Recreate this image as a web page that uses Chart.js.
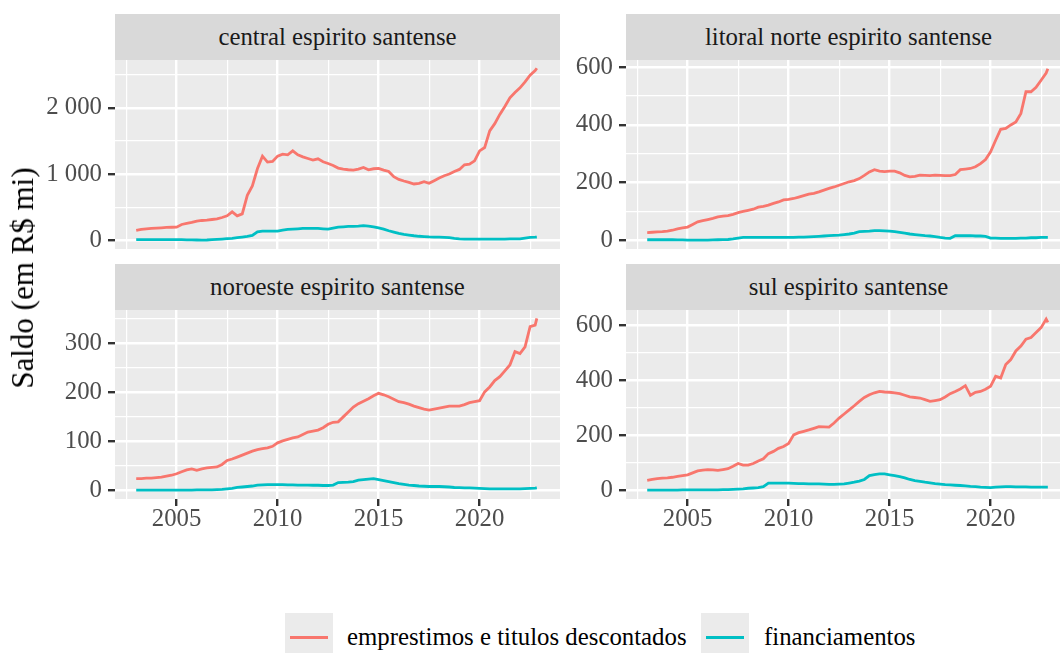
<!DOCTYPE html>
<html>
<head>
<meta charset="utf-8">
<script src="https://cdn.jsdelivr.net/npm/chart.js@4.4.0/dist/chart.umd.min.js"></script>
<style>
html,body{margin:0;padding:0;background:#ffffff;}
#wrap{position:relative;width:1060px;height:653px;overflow:hidden;background:#ffffff;font-family:"Liberation Serif","Times New Roman",serif;}
canvas{position:absolute;}
.strip{position:absolute;height:46px;background:#D9D9D9;color:#1A1A1A;font-size:24.8px;line-height:46px;text-align:center;white-space:nowrap;}
.ytitle{position:absolute;left:23px;top:278px;transform:translate(-50%,-50%) rotate(-90deg);font-size:31px;color:#000;white-space:nowrap;}
.key{position:absolute;top:613px;width:48px;height:48px;background:#EBEBEB;}
.key i{position:absolute;left:5px;right:5px;top:22.5px;height:3px;}
.ltext{position:absolute;top:637px;transform:translateY(-50%);font-size:24.8px;color:#000;white-space:nowrap;line-height:1.2;}
</style>
</head>
<body>
<div id="wrap">
  <div class="strip" id="s1" style="left:115px;top:14px;width:445px;"></div>
  <div class="strip" id="s2" style="left:626px;top:14px;width:445px;"></div>
  <div class="strip" id="s3" style="left:115px;top:264px;width:445px;"></div>
  <div class="strip" id="s4" style="left:626px;top:264px;width:445px;"></div>
  <canvas id="c1" width="560" height="204" style="left:0px;top:45px;"></canvas>
  <canvas id="c2" width="511" height="204" style="left:560px;top:45px;"></canvas>
  <canvas id="c3" width="560" height="244" style="left:0px;top:295px;"></canvas>
  <canvas id="c4" width="511" height="244" style="left:560px;top:295px;"></canvas>
  <div class="ytitle" id="ytitle"></div>
  <div class="key" style="left:285px;"><i style="background:#F8766D"></i></div>
  <div class="ltext" id="l1" style="left:347px;"></div>
  <div class="key" style="left:701px;"><i style="background:#00BFC4"></i></div>
  <div class="ltext" id="l2" style="left:764px;"></div>
</div>
<script>
// ---------- DATA ----------
const panelTitles = ["central espirito santense", "litoral norte espirito santense", "noroeste espirito santense", "sul espirito santense"];
const seriesNames = ["emprestimos e titulos descontados", "financiamentos"];
const yAxisTitle = "Saldo (em R$ mi)";

const months = [
 "2003-01","2003-04","2003-07","2003-10","2004-01","2004-04","2004-07","2004-10",
 "2005-01","2005-04","2005-07","2005-10","2006-01","2006-04","2006-07","2006-10",
 "2007-01","2007-04","2007-07","2007-10","2008-01","2008-04","2008-07","2008-10",
 "2009-01","2009-04","2009-07","2009-10","2010-01","2010-04","2010-07","2010-10",
 "2011-01","2011-04","2011-07","2011-10","2012-01","2012-04","2012-07","2012-10",
 "2013-01","2013-04","2013-07","2013-10","2014-01","2014-04","2014-07","2014-10",
 "2015-01","2015-04","2015-07","2015-10","2016-01","2016-04","2016-07","2016-10",
 "2017-01","2017-04","2017-07","2017-10","2018-01","2018-04","2018-07","2018-10",
 "2019-01","2019-04","2019-07","2019-10","2020-01","2020-04","2020-07","2020-10",
 "2021-01","2021-04","2021-07","2021-10","2022-01","2022-04","2022-07","2022-10",
 "2022-11"];

const centralEmprestimos = [150,165,175,180, 185,190,195,198, 200,240,255,270, 290,300,305,315, 325,345,370,430, 370,400,680,820, 1080,1270,1180,1190, 1270,1300,1290,1350, 1290,1260,1235,1210, 1230,1185,1160,1130, 1090,1075,1065,1060, 1075,1100,1065,1080, 1085,1060,1040,960, 920,895,875,850, 860,885,860,900, 940,975,1000,1040, 1070,1140,1150,1200, 1350,1400,1650,1760, 1900,2020,2150,2230, 2300,2390,2490,2560, 2595];
const centralFinanciamentos = [10,12,12,12, 12,12,12,11, 10,10,9,8, 6,5,6,10, 15,20,25,30, 40,50,60,75, 130,140,140,140, 140,155,165,170, 175,180,180,180, 180,175,170,185, 200,205,210,212, 215,222,215,205, 190,170,145,125, 105,90,80,70, 62,58,52,50, 48,45,40,30, 22,20,20,20, 20,20,20,20, 20,20,22,22, 22,35,45,48, 50];

const litoralEmprestimos = [27,28,29,30, 32,35,40,43, 46,55,64,68, 72,76,81,84, 86,90,96,100, 104,108,115,118, 122,128,133,140, 142,145,150,155, 160,163,168,174, 180,185,191,197, 203,207,214,225, 237,245,240,238, 240,240,234,225, 220,222,226,225, 224,226,225,224, 224,228,245,247, 249,255,266,280, 307,347,385,388, 400,410,440,515, 515,530,555,580, 595];
const litoralFinanciamentos = [2,2,2,2, 2,2,1.5,1.5, 1,1,1,1, 1,1.5,2,2.5, 3,5,8,10, 10,10,10,10, 10,10,10,10, 10,10,11,11, 12,13,14,15, 16,17,18,20, 22,25,30,31, 32,34,34,33, 32,30,28,25, 22,20,18,16, 15,13,10,8, 7,16,16,16, 16,15,15,14, 8,8,7,7, 7,7,8,8, 9,9,10,10, 10];

const noroesteEmprestimos = [24,24,25,25, 26,27,29,31, 34,38,42,44, 41,44,46,47, 48,53,61,64, 68,72,76,80, 83,85,87,90, 97,101,104,107, 109,114,119,121, 123,128,135,139, 140,150,160,170, 177,182,187,193, 198,195,191,186, 181,179,176,172, 169,166,164,166, 168,170,172,172, 172,175,179,181, 183,201,211,224, 232,244,256,283, 279,293,334,337, 351];
const noroesteFinanciamentos = [0.5,0.5,0.5,0.5, 0.5,0.5,0.5,0.5, 0.5,0.5,0.5,0.7, 1,1,1,1.2, 1.5,2,3,4, 6,7,8,9, 11,11.5,12,12, 12,12,11.5,11.5, 11,11,11,10.5, 10.5,10,10,11, 16,16.5,17,18, 21,22,23,24, 22,20,18,16, 14,12.5,11,10, 9,8.5,8,8, 8,7.5,7,6, 5.5,5,5,4.5, 4,3.5,3,3, 3,3,3,3, 3,3.5,4,4.5, 5];

const sulEmprestimos = [37,40,43,45, 46,48,51,54, 57,64,71,74, 76,75,73,76, 79,88,98,92, 92,98,107,115, 134,142,153,160, 171,202,210,215, 220,226,232,231, 230,245,263,278, 293,308,324,338, 348,355,360,358, 357,355,352,346, 340,338,336,330, 324,327,330,340, 352,360,369,381, 346,357,360,368, 379,415,409,458, 476,507,525,550, 556,574,592,623, 611];
const sulFinanciamentos = [1,1,1,1, 1.5,1.5,1.5,2, 2,2,2,2, 2,2.5,2.5,3, 3,4,5,6, 8,9,10,14, 27,27,27,27, 27,26,25,25, 24,24,24,23, 22,22,23,24, 27,30,34,40, 54,58,60,60, 57,54,50,46, 40,36,33,30, 28,25,23,21, 20,19,18,17, 15,14,12,11, 10,12,13,14, 14,13,13,13, 12,12,12,12, 12];

const xMajorTicks = [2005, 2010, 2015, 2020];
const xMinorTicks = [2002.5, 2007.5, 2012.5, 2017.5, 2022.5];

const centralYMajor = [0, 1000, 2000];
const centralYLabels = ["0", "1 000", "2 000"];
const centralYMinor = [500, 1500, 2500];
const litoralYMajor = [0, 200, 400, 600];
const litoralYLabels = ["0", "200", "400", "600"];
const litoralYMinor = [100, 300, 500];
const noroesteYMajor = [0, 100, 200, 300];
const noroesteYLabels = ["0", "100", "200", "300"];
const noroesteYMinor = [50, 150, 250, 350];
const sulYMajor = [0, 200, 400, 600];
const sulYLabels = ["0", "200", "400", "600"];
const sulYMinor = [100, 300, 500];

// ---------- LAYOUT / STYLE ----------
const X_MIN = 2001.95, X_MAX = 2023.98;
const RED = "#F8766D", CYAN = "#00BFC4";
const FONT_FAMILY = "'Liberation Serif', 'Times New Roman', serif";
const TOP_PAD = 15;

document.getElementById("s1").textContent = panelTitles[0];
document.getElementById("s2").textContent = panelTitles[1];
document.getElementById("s3").textContent = panelTitles[2];
document.getElementById("s4").textContent = panelTitles[3];
document.getElementById("ytitle").textContent = yAxisTitle;
document.getElementById("l1").textContent = seriesNames[0];
document.getElementById("l2").textContent = seriesNames[1];

const toYear = s => Number(s.slice(0, 4)) + (Number(s.slice(5, 7)) - 1) / 12;

const panelBg = {
  id: "panelBg",
  beforeDraw(chart) {
    const { ctx, chartArea: a } = chart;
    ctx.save();
    ctx.fillStyle = "#EBEBEB";
    ctx.fillRect(a.left, a.top, a.right - a.left, a.bottom - a.top);
    ctx.restore();
  }
};

function makePanel(id, red, cyan, yMin, yMax, yMajor, yMinor, yLabels, yAxisW, showX) {
  const isMajX = c => c.tick && xMajorTicks.includes(c.tick.value);
  const isMajY = c => c.tick && yMajor.includes(c.tick.value);
  new Chart(document.getElementById(id), {
    type: "line",
    data: {
      datasets: [
        { label: seriesNames[1], data: months.map((m, i) => ({ x: toYear(m), y: cyan[i] })),
          borderColor: CYAN, backgroundColor: CYAN, borderWidth: 2.8, pointRadius: 0, tension: 0, fill: false, order: 1 },
        { label: seriesNames[0], data: months.map((m, i) => ({ x: toYear(m), y: red[i] })),
          borderColor: RED, backgroundColor: RED, borderWidth: 2.8, pointRadius: 0, tension: 0, fill: false, order: 2 }
      ]
    },
    options: {
      responsive: false, animation: false, devicePixelRatio: 1, events: [],
      layout: { padding: { top: TOP_PAD, left: 0, right: 0, bottom: 0 } },
      plugins: { legend: { display: false }, tooltip: { enabled: false } },
      scales: {
        x: {
          type: "linear", min: X_MIN, max: X_MAX,
          afterBuildTicks: s => { s.ticks = xMinorTicks.concat(xMajorTicks).sort((a, b) => a - b).map(v => ({ value: v })); },
          afterFit: s => { s.height = showX ? 40 : 0; s.paddingLeft = 0; s.paddingRight = 0; },
          border: { display: false },
          grid: {
            color: "#FFFFFF",
            lineWidth: c => isMajX(c) ? 2.4 : 1.2,
            drawTicks: showX, tickLength: 7, tickWidth: 2.4,
            tickColor: c => isMajX(c) ? "#333333" : "rgba(0,0,0,0)"
          },
          ticks: {
            display: showX, autoSkip: false, maxRotation: 0, minRotation: 0, padding: 1,
            color: "#4D4D4D", font: { family: FONT_FAMILY, size: 24.8, lineHeight: 1 },
            callback: v => xMajorTicks.includes(v) ? String(v) : ""
          }
        },
        y: {
          type: "linear", min: yMin, max: yMax,
          afterBuildTicks: s => { s.ticks = yMajor.concat(yMinor).sort((a, b) => a - b).map(v => ({ value: v })); },
          afterFit: s => { s.width = yAxisW; s.paddingTop = 0; s.paddingBottom = 0; },
          border: { display: false },
          grid: {
            color: "#FFFFFF",
            lineWidth: c => isMajY(c) ? 2.4 : 1.2,
            drawTicks: true, tickLength: 7, tickWidth: 2.4,
            tickColor: c => isMajY(c) ? "#333333" : "rgba(0,0,0,0)"
          },
          ticks: {
            autoSkip: false, padding: 6,
            color: "#4D4D4D", font: { family: FONT_FAMILY, size: 24.8, lineHeight: 1 },
            callback: v => { const k = yMajor.indexOf(v); return k >= 0 ? yLabels[k] : ""; }
          }
        }
      }
    },
    plugins: [panelBg]
  });
}

makePanel("c1", centralEmprestimos, centralFinanciamentos, -130, 2720, centralYMajor, centralYMinor, centralYLabels, 115, false);
makePanel("c2", litoralEmprestimos, litoralFinanciamentos, -30, 625, litoralYMajor, litoralYMinor, litoralYLabels, 66, false);
makePanel("c3", noroesteEmprestimos, noroesteFinanciamentos, -17.5, 368, noroesteYMajor, noroesteYMinor, noroesteYLabels, 115, true);
makePanel("c4", sulEmprestimos, sulFinanciamentos, -31, 656, sulYMajor, sulYMinor, sulYLabels, 66, true);
</script>
</body>
</html>
